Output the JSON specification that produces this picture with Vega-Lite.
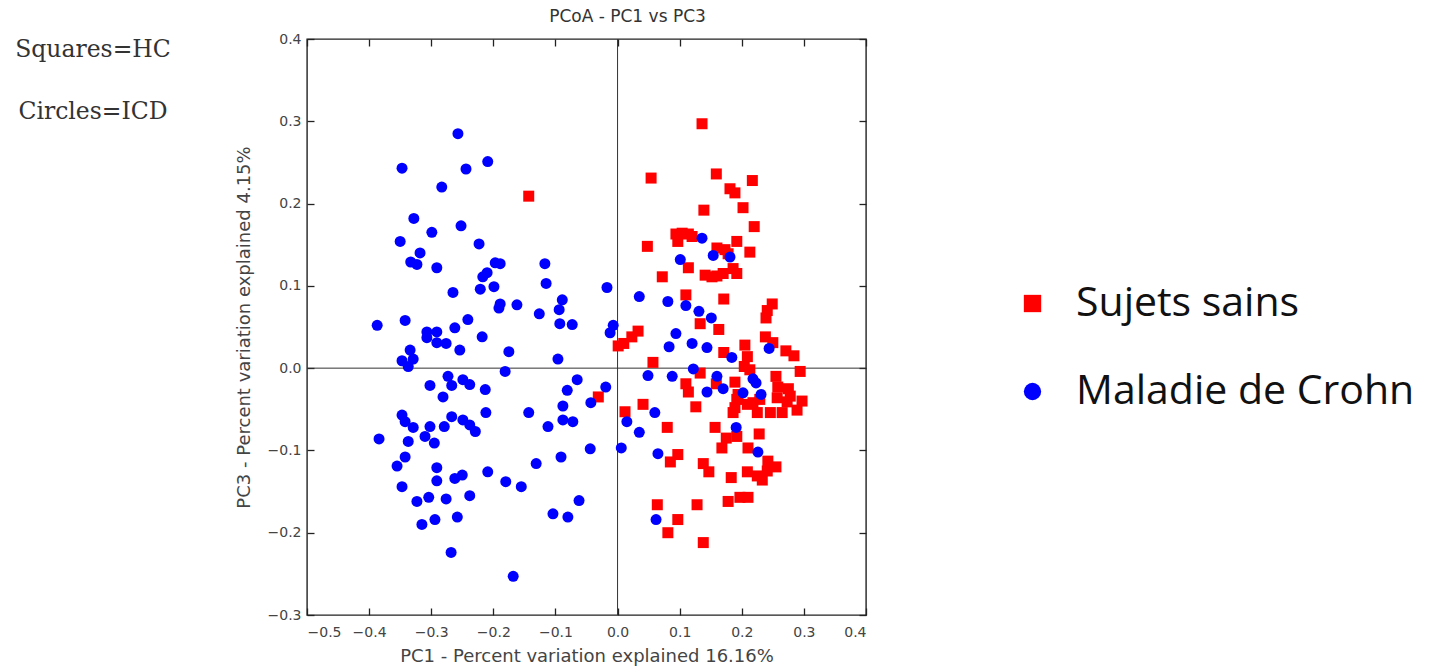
{
 "$schema": "https://vega.github.io/schema/vega-lite/v6.json",
 "background": "white",
 "padding": {"left": 15, "top": 7, "right": 0, "bottom": 0},
 "spacing": 63,
 "config": {
   "view": {"stroke": null},
   "axis": {"grid": false, "labelFont": "DejaVu Sans", "labelFontSize": 14, "labelColor": "#444", "titleFont": "DejaVu Sans", "titleFontSize": 18, "titleFontWeight": "normal", "titleColor": "#444", "tickColor": "#222", "tickWidth": 1.3, "tickSize": -7, "domain": false},
   "title": {"font": "DejaVu Sans", "fontSize": 17, "fontWeight": "normal", "color": "#333"}
 },
 "hconcat": [
  {
   "width": 156, "height": 84,
   "data": {"values": [{"texte": "Squares=HC"}, {"texte": "Circles=ICD"}]},
   "mark": {"type": "text", "align": "center", "baseline": "middle", "font": "DejaVu Serif", "fontSize": 23.5, "color": "#333"},
   "encoding": {
     "y": {"field": "texte", "type": "nominal", "sort": null, "axis": null, "scale": {"type": "point", "padding": 0.18}},
     "text": {"field": "texte"}
   }
  },
  {
   "width": 559, "height": 576,
   "title": {"text": "PCoA - PC1 vs PC3", "offset": 6, "dx": 41},
   "view": {"stroke": "#222", "strokeWidth": 1.4},
   "layer": [
    {
     "data": {"values": [{"v": 0}]},
     "mark": {"type": "rule", "color": "#333", "strokeWidth": 1},
     "encoding": {"x": {"field": "v", "type": "quantitative", "scale": {"domain": [-0.5, 0.4], "nice": false, "zero": false}, "axis": {"orient": "top", "labels": false, "title": null, "values": [-0.5, -0.4, -0.3, -0.2, -0.1, 0, 0.1, 0.2, 0.3, 0.4]}}}
    },
    {
     "data": {"values": [{"v": 0}]},
     "mark": {"type": "rule", "color": "#333", "strokeWidth": 1},
     "encoding": {"y": {"field": "v", "type": "quantitative", "scale": {"domain": [-0.3, 0.4], "nice": false, "zero": false}, "axis": {"orient": "right", "labels": false, "title": null, "values": [-0.3, -0.2, -0.1, 0, 0.1, 0.2, 0.3, 0.4]}}}
    },
    {
     "data": {"values": [
{"groupe":"Sujets sains","PC1":0.136,"PC3":0.297},{"groupe":"Sujets sains","PC1":0.054,"PC3":0.231},{"groupe":"Sujets sains","PC1":0.159,"PC3":0.236},{"groupe":"Sujets sains","PC1":0.217,"PC3":0.228},{"groupe":"Sujets sains","PC1":0.181,"PC3":0.218},{"groupe":"Sujets sains","PC1":0.189,"PC3":0.213},{"groupe":"Sujets sains","PC1":0.139,"PC3":0.192},{"groupe":"Sujets sains","PC1":0.202,"PC3":0.195},{"groupe":"Sujets sains","PC1":0.220,"PC3":0.172},{"groupe":"Sujets sains","PC1":0.094,"PC3":0.163},{"groupe":"Sujets sains","PC1":0.104,"PC3":0.164},{"groupe":"Sujets sains","PC1":0.114,"PC3":0.163},{"groupe":"Sujets sains","PC1":0.120,"PC3":0.160},{"groupe":"Sujets sains","PC1":0.097,"PC3":0.154},{"groupe":"Sujets sains","PC1":0.048,"PC3":0.148},{"groupe":"Sujets sains","PC1":0.192,"PC3":0.154},{"groupe":"Sujets sains","PC1":0.213,"PC3":0.141},{"groupe":"Sujets sains","PC1":0.160,"PC3":0.146},{"groupe":"Sujets sains","PC1":0.173,"PC3":0.144},{"groupe":"Sujets sains","PC1":0.178,"PC3":0.139},{"groupe":"Sujets sains","PC1":0.114,"PC3":0.122},{"groupe":"Sujets sains","PC1":0.072,"PC3":0.111},{"groupe":"Sujets sains","PC1":0.141,"PC3":0.113},{"groupe":"Sujets sains","PC1":0.152,"PC3":0.111},{"groupe":"Sujets sains","PC1":0.160,"PC3":0.112},{"groupe":"Sujets sains","PC1":0.170,"PC3":0.115},{"groupe":"Sujets sains","PC1":0.186,"PC3":0.121},{"groupe":"Sujets sains","PC1":0.192,"PC3":0.115},{"groupe":"Sujets sains","PC1":0.110,"PC3":0.089},{"groupe":"Sujets sains","PC1":0.171,"PC3":0.084},{"groupe":"Sujets sains","PC1":0.249,"PC3":0.078},{"groupe":"Sujets sains","PC1":0.241,"PC3":0.070},{"groupe":"Sujets sains","PC1":0.239,"PC3":0.061},{"groupe":"Sujets sains","PC1":0.133,"PC3":0.054},{"groupe":"Sujets sains","PC1":0.163,"PC3":0.047},{"groupe":"Sujets sains","PC1":0.033,"PC3":0.045},{"groupe":"Sujets sains","PC1":0.023,"PC3":0.038},{"groupe":"Sujets sains","PC1":0.010,"PC3":0.030},{"groupe":"Sujets sains","PC1":0.001,"PC3":0.027},{"groupe":"Sujets sains","PC1":0.238,"PC3":0.038},{"groupe":"Sujets sains","PC1":0.250,"PC3":0.031},{"groupe":"Sujets sains","PC1":0.271,"PC3":0.021},{"groupe":"Sujets sains","PC1":0.284,"PC3":0.015},{"groupe":"Sujets sains","PC1":0.294,"PC3":-0.004},{"groupe":"Sujets sains","PC1":0.171,"PC3":0.019},{"groupe":"Sujets sains","PC1":0.205,"PC3":0.028},{"groupe":"Sujets sains","PC1":0.209,"PC3":0.014},{"groupe":"Sujets sains","PC1":0.204,"PC3":0.002},{"groupe":"Sujets sains","PC1":0.213,"PC3":-0.002},{"groupe":"Sujets sains","PC1":0.057,"PC3":0.007},{"groupe":"Sujets sains","PC1":0.133,"PC3":-0.006},{"groupe":"Sujets sains","PC1":0.110,"PC3":-0.019},{"groupe":"Sujets sains","PC1":0.114,"PC3":-0.029},{"groupe":"Sujets sains","PC1":0.126,"PC3":-0.047},{"groupe":"Sujets sains","PC1":0.159,"PC3":-0.019},{"groupe":"Sujets sains","PC1":0.189,"PC3":-0.017},{"groupe":"Sujets sains","PC1":0.194,"PC3":-0.032},{"groupe":"Sujets sains","PC1":0.255,"PC3":-0.010},{"groupe":"Sujets sains","PC1":0.258,"PC3":-0.023},{"groupe":"Sujets sains","PC1":0.275,"PC3":-0.025},{"groupe":"Sujets sains","PC1":0.278,"PC3":-0.034},{"groupe":"Sujets sains","PC1":0.257,"PC3":-0.036},{"groupe":"Sujets sains","PC1":0.273,"PC3":-0.041},{"groupe":"Sujets sains","PC1":0.297,"PC3":-0.040},{"groupe":"Sujets sains","PC1":0.289,"PC3":-0.051},{"groupe":"Sujets sains","PC1":0.265,"PC3":-0.054},{"groupe":"Sujets sains","PC1":0.192,"PC3":-0.038},{"groupe":"Sujets sains","PC1":0.209,"PC3":-0.044},{"groupe":"Sujets sains","PC1":0.225,"PC3":-0.054},{"groupe":"Sujets sains","PC1":0.186,"PC3":-0.054},{"groupe":"Sujets sains","PC1":0.189,"PC3":-0.048},{"groupe":"Sujets sains","PC1":0.218,"PC3":-0.042},{"groupe":"Sujets sains","PC1":0.246,"PC3":-0.054},{"groupe":"Sujets sains","PC1":0.229,"PC3":-0.038},{"groupe":"Sujets sains","PC1":0.041,"PC3":-0.044},{"groupe":"Sujets sains","PC1":0.012,"PC3":-0.053},{"groupe":"Sujets sains","PC1":0.080,"PC3":-0.072},{"groupe":"Sujets sains","PC1":0.157,"PC3":-0.072},{"groupe":"Sujets sains","PC1":0.175,"PC3":-0.085},{"groupe":"Sujets sains","PC1":0.192,"PC3":-0.083},{"groupe":"Sujets sains","PC1":0.228,"PC3":-0.080},{"groupe":"Sujets sains","PC1":0.168,"PC3":-0.097},{"groupe":"Sujets sains","PC1":0.210,"PC3":-0.097},{"groupe":"Sujets sains","PC1":0.097,"PC3":-0.105},{"groupe":"Sujets sains","PC1":0.085,"PC3":-0.114},{"groupe":"Sujets sains","PC1":0.138,"PC3":-0.116},{"groupe":"Sujets sains","PC1":0.147,"PC3":-0.126},{"groupe":"Sujets sains","PC1":0.183,"PC3":-0.133},{"groupe":"Sujets sains","PC1":0.209,"PC3":-0.126},{"groupe":"Sujets sains","PC1":0.225,"PC3":-0.131},{"groupe":"Sujets sains","PC1":0.241,"PC3":-0.125},{"groupe":"Sujets sains","PC1":0.255,"PC3":-0.120},{"groupe":"Sujets sains","PC1":0.242,"PC3":-0.113},{"groupe":"Sujets sains","PC1":0.233,"PC3":-0.136},{"groupe":"Sujets sains","PC1":0.178,"PC3":-0.162},{"groupe":"Sujets sains","PC1":0.197,"PC3":-0.157},{"groupe":"Sujets sains","PC1":0.210,"PC3":-0.157},{"groupe":"Sujets sains","PC1":0.064,"PC3":-0.166},{"groupe":"Sujets sains","PC1":0.128,"PC3":-0.166},{"groupe":"Sujets sains","PC1":0.097,"PC3":-0.184},{"groupe":"Sujets sains","PC1":0.081,"PC3":-0.200},{"groupe":"Sujets sains","PC1":0.138,"PC3":-0.212},{"groupe":"Sujets sains","PC1":-0.143,"PC3":0.209},{"groupe":"Sujets sains","PC1":-0.031,"PC3":-0.035},
{"groupe":"Maladie de Crohn","PC1":-0.257,"PC3":0.285},{"groupe":"Maladie de Crohn","PC1":-0.347,"PC3":0.243},{"groupe":"Maladie de Crohn","PC1":-0.244,"PC3":0.242},{"groupe":"Maladie de Crohn","PC1":-0.209,"PC3":0.251},{"groupe":"Maladie de Crohn","PC1":-0.283,"PC3":0.220},{"groupe":"Maladie de Crohn","PC1":-0.328,"PC3":0.182},{"groupe":"Maladie de Crohn","PC1":-0.252,"PC3":0.173},{"groupe":"Maladie de Crohn","PC1":-0.299,"PC3":0.165},{"groupe":"Maladie de Crohn","PC1":-0.350,"PC3":0.154},{"groupe":"Maladie de Crohn","PC1":-0.223,"PC3":0.151},{"groupe":"Maladie de Crohn","PC1":-0.318,"PC3":0.140},{"groupe":"Maladie de Crohn","PC1":-0.333,"PC3":0.129},{"groupe":"Maladie de Crohn","PC1":-0.323,"PC3":0.126},{"groupe":"Maladie de Crohn","PC1":-0.291,"PC3":0.122},{"groupe":"Maladie de Crohn","PC1":-0.197,"PC3":0.128},{"groupe":"Maladie de Crohn","PC1":-0.189,"PC3":0.127},{"groupe":"Maladie de Crohn","PC1":-0.210,"PC3":0.116},{"groupe":"Maladie de Crohn","PC1":-0.217,"PC3":0.111},{"groupe":"Maladie de Crohn","PC1":-0.265,"PC3":0.092},{"groupe":"Maladie de Crohn","PC1":-0.221,"PC3":0.096},{"groupe":"Maladie de Crohn","PC1":-0.199,"PC3":0.099},{"groupe":"Maladie de Crohn","PC1":-0.189,"PC3":0.078},{"groupe":"Maladie de Crohn","PC1":-0.191,"PC3":0.073},{"groupe":"Maladie de Crohn","PC1":-0.162,"PC3":0.077},{"groupe":"Maladie de Crohn","PC1":-0.117,"PC3":0.127},{"groupe":"Maladie de Crohn","PC1":-0.115,"PC3":0.103},{"groupe":"Maladie de Crohn","PC1":-0.126,"PC3":0.066},{"groupe":"Maladie de Crohn","PC1":-0.089,"PC3":0.083},{"groupe":"Maladie de Crohn","PC1":-0.094,"PC3":0.071},{"groupe":"Maladie de Crohn","PC1":-0.017,"PC3":0.098},
{"groupe":"Maladie de Crohn","PC1":-0.387,"PC3":0.052},{"groupe":"Maladie de Crohn","PC1":-0.342,"PC3":0.058},{"groupe":"Maladie de Crohn","PC1":-0.307,"PC3":0.044},{"groupe":"Maladie de Crohn","PC1":-0.291,"PC3":0.044},{"groupe":"Maladie de Crohn","PC1":-0.307,"PC3":0.037},{"groupe":"Maladie de Crohn","PC1":-0.291,"PC3":0.031},{"groupe":"Maladie de Crohn","PC1":-0.276,"PC3":0.030},{"groupe":"Maladie de Crohn","PC1":-0.262,"PC3":0.049},{"groupe":"Maladie de Crohn","PC1":-0.241,"PC3":0.059},{"groupe":"Maladie de Crohn","PC1":-0.218,"PC3":0.038},{"groupe":"Maladie de Crohn","PC1":-0.254,"PC3":0.022},{"groupe":"Maladie de Crohn","PC1":-0.175,"PC3":0.020},{"groupe":"Maladie de Crohn","PC1":-0.334,"PC3":0.022},{"groupe":"Maladie de Crohn","PC1":-0.347,"PC3":0.009},{"groupe":"Maladie de Crohn","PC1":-0.329,"PC3":0.011},{"groupe":"Maladie de Crohn","PC1":-0.337,"PC3":0.002},{"groupe":"Maladie de Crohn","PC1":-0.181,"PC3":-0.004},{"groupe":"Maladie de Crohn","PC1":-0.096,"PC3":0.011},{"groupe":"Maladie de Crohn","PC1":-0.093,"PC3":0.054},{"groupe":"Maladie de Crohn","PC1":-0.073,"PC3":0.053},{"groupe":"Maladie de Crohn","PC1":-0.007,"PC3":0.052},{"groupe":"Maladie de Crohn","PC1":-0.012,"PC3":0.043},
{"groupe":"Maladie de Crohn","PC1":-0.302,"PC3":-0.021},{"groupe":"Maladie de Crohn","PC1":-0.273,"PC3":-0.010},{"groupe":"Maladie de Crohn","PC1":-0.267,"PC3":-0.021},{"groupe":"Maladie de Crohn","PC1":-0.249,"PC3":-0.014},{"groupe":"Maladie de Crohn","PC1":-0.238,"PC3":-0.020},{"groupe":"Maladie de Crohn","PC1":-0.213,"PC3":-0.026},{"groupe":"Maladie de Crohn","PC1":-0.281,"PC3":-0.035},{"groupe":"Maladie de Crohn","PC1":-0.065,"PC3":-0.014},{"groupe":"Maladie de Crohn","PC1":-0.081,"PC3":-0.027},{"groupe":"Maladie de Crohn","PC1":-0.019,"PC3":-0.023},
{"groupe":"Maladie de Crohn","PC1":-0.212,"PC3":-0.054},{"groupe":"Maladie de Crohn","PC1":-0.267,"PC3":-0.059},{"groupe":"Maladie de Crohn","PC1":-0.249,"PC3":-0.063},{"groupe":"Maladie de Crohn","PC1":-0.238,"PC3":-0.069},{"groupe":"Maladie de Crohn","PC1":-0.229,"PC3":-0.077},{"groupe":"Maladie de Crohn","PC1":-0.279,"PC3":-0.071},{"groupe":"Maladie de Crohn","PC1":-0.302,"PC3":-0.071},{"groupe":"Maladie de Crohn","PC1":-0.347,"PC3":-0.057},{"groupe":"Maladie de Crohn","PC1":-0.342,"PC3":-0.065},{"groupe":"Maladie de Crohn","PC1":-0.329,"PC3":-0.072},{"groupe":"Maladie de Crohn","PC1":-0.310,"PC3":-0.083},{"groupe":"Maladie de Crohn","PC1":-0.295,"PC3":-0.091},{"groupe":"Maladie de Crohn","PC1":-0.337,"PC3":-0.089},{"groupe":"Maladie de Crohn","PC1":-0.384,"PC3":-0.086},{"groupe":"Maladie de Crohn","PC1":-0.143,"PC3":-0.054},{"groupe":"Maladie de Crohn","PC1":-0.112,"PC3":-0.071},{"groupe":"Maladie de Crohn","PC1":-0.088,"PC3":-0.046},{"groupe":"Maladie de Crohn","PC1":-0.088,"PC3":-0.063},{"groupe":"Maladie de Crohn","PC1":-0.072,"PC3":-0.065},{"groupe":"Maladie de Crohn","PC1":-0.043,"PC3":-0.042},{"groupe":"Maladie de Crohn","PC1":-0.044,"PC3":-0.098},{"groupe":"Maladie de Crohn","PC1":0.006,"PC3":-0.097},
{"groupe":"Maladie de Crohn","PC1":-0.342,"PC3":-0.108},{"groupe":"Maladie de Crohn","PC1":-0.355,"PC3":-0.119},{"groupe":"Maladie de Crohn","PC1":-0.291,"PC3":-0.121},{"groupe":"Maladie de Crohn","PC1":-0.291,"PC3":-0.137},{"groupe":"Maladie de Crohn","PC1":-0.262,"PC3":-0.134},{"groupe":"Maladie de Crohn","PC1":-0.250,"PC3":-0.130},{"groupe":"Maladie de Crohn","PC1":-0.209,"PC3":-0.126},{"groupe":"Maladie de Crohn","PC1":-0.180,"PC3":-0.138},{"groupe":"Maladie de Crohn","PC1":-0.155,"PC3":-0.144},{"groupe":"Maladie de Crohn","PC1":-0.131,"PC3":-0.116},{"groupe":"Maladie de Crohn","PC1":-0.091,"PC3":-0.108},{"groupe":"Maladie de Crohn","PC1":-0.347,"PC3":-0.144},{"groupe":"Maladie de Crohn","PC1":-0.323,"PC3":-0.162},{"groupe":"Maladie de Crohn","PC1":-0.304,"PC3":-0.157},{"groupe":"Maladie de Crohn","PC1":-0.276,"PC3":-0.159},{"groupe":"Maladie de Crohn","PC1":-0.238,"PC3":-0.155},{"groupe":"Maladie de Crohn","PC1":-0.315,"PC3":-0.190},{"groupe":"Maladie de Crohn","PC1":-0.294,"PC3":-0.184},{"groupe":"Maladie de Crohn","PC1":-0.258,"PC3":-0.181},{"groupe":"Maladie de Crohn","PC1":-0.104,"PC3":-0.177},{"groupe":"Maladie de Crohn","PC1":-0.080,"PC3":-0.181},{"groupe":"Maladie de Crohn","PC1":-0.062,"PC3":-0.161},{"groupe":"Maladie de Crohn","PC1":-0.268,"PC3":-0.224},{"groupe":"Maladie de Crohn","PC1":-0.168,"PC3":-0.253},
{"groupe":"Maladie de Crohn","PC1":0.136,"PC3":0.158},{"groupe":"Maladie de Crohn","PC1":0.101,"PC3":0.132},{"groupe":"Maladie de Crohn","PC1":0.154,"PC3":0.137},{"groupe":"Maladie de Crohn","PC1":0.181,"PC3":0.135},{"groupe":"Maladie de Crohn","PC1":0.035,"PC3":0.087},{"groupe":"Maladie de Crohn","PC1":0.081,"PC3":0.081},{"groupe":"Maladie de Crohn","PC1":0.110,"PC3":0.076},{"groupe":"Maladie de Crohn","PC1":0.131,"PC3":0.069},{"groupe":"Maladie de Crohn","PC1":0.151,"PC3":0.061},{"groupe":"Maladie de Crohn","PC1":0.094,"PC3":0.042},{"groupe":"Maladie de Crohn","PC1":0.083,"PC3":0.026},{"groupe":"Maladie de Crohn","PC1":0.120,"PC3":0.030},{"groupe":"Maladie de Crohn","PC1":0.144,"PC3":0.025},{"groupe":"Maladie de Crohn","PC1":0.244,"PC3":0.024},{"groupe":"Maladie de Crohn","PC1":0.184,"PC3":0.013},{"groupe":"Maladie de Crohn","PC1":0.122,"PC3":-0.001},{"groupe":"Maladie de Crohn","PC1":0.049,"PC3":-0.009},{"groupe":"Maladie de Crohn","PC1":0.088,"PC3":-0.010},{"groupe":"Maladie de Crohn","PC1":0.160,"PC3":-0.010},{"groupe":"Maladie de Crohn","PC1":0.144,"PC3":-0.029},{"groupe":"Maladie de Crohn","PC1":0.170,"PC3":-0.025},{"groupe":"Maladie de Crohn","PC1":0.218,"PC3":-0.013},{"groupe":"Maladie de Crohn","PC1":0.223,"PC3":-0.018},{"groupe":"Maladie de Crohn","PC1":0.202,"PC3":-0.030},{"groupe":"Maladie de Crohn","PC1":0.231,"PC3":-0.032},{"groupe":"Maladie de Crohn","PC1":0.060,"PC3":-0.054},{"groupe":"Maladie de Crohn","PC1":0.015,"PC3":-0.065},{"groupe":"Maladie de Crohn","PC1":0.035,"PC3":-0.078},{"groupe":"Maladie de Crohn","PC1":0.065,"PC3":-0.104},{"groupe":"Maladie de Crohn","PC1":0.191,"PC3":-0.072},{"groupe":"Maladie de Crohn","PC1":0.226,"PC3":-0.102},{"groupe":"Maladie de Crohn","PC1":0.062,"PC3":-0.184}
     ]},
     "mark": {"type": "point", "filled": true, "size": 121, "opacity": 1, "strokeWidth": 0},
     "encoding": {
       "x": {"field": "PC1", "type": "quantitative", "scale": {"domain": [-0.5, 0.4], "nice": false, "zero": false}, "axis": {"orient": "bottom", "values": [-0.5, -0.4, -0.3, -0.2, -0.1, 0, 0.1, 0.2, 0.3, 0.4], "format": ".1f", "title": "PC1 - Percent variation explained 16.16%", "labelPadding": 17, "titlePadding": 8}},
       "y": {"field": "PC3", "type": "quantitative", "scale": {"domain": [-0.3, 0.4], "nice": false, "zero": false}, "axis": {"orient": "left", "values": [-0.3, -0.2, -0.1, 0, 0.1, 0.2, 0.3, 0.4], "format": ".1f", "title": "PC3 - Percent variation explained 4.15%", "labelPadding": 13, "titlePadding": 14}},
       "color": {"field": "groupe", "type": "nominal", "scale": {"domain": ["Sujets sains", "Maladie de Crohn"], "range": ["#ff0000", "#0000ff"]}, "legend": {"orient": "none", "legendX": 997, "legendY": 244, "title": null, "labelFont": "Open Sans", "labelFontSize": 41, "labelColor": "#111", "labelLimit": 0, "symbolSize": 300, "symbolStrokeWidth": 0, "labelOffset": 23, "rowPadding": 46}},
       "shape": {"field": "groupe", "type": "nominal", "scale": {"domain": ["Sujets sains", "Maladie de Crohn"], "range": ["square", "circle"]}, "legend": {"orient": "none", "legendX": 997, "legendY": 244, "title": null, "labelFont": "Open Sans", "labelFontSize": 41, "labelColor": "#111", "labelLimit": 0, "symbolSize": 300, "symbolStrokeWidth": 0, "labelOffset": 23, "rowPadding": 46}}
     }
    }
   ],
   "resolve": {"axis": {"x": "independent", "y": "independent"}}
  }
 ]
}
